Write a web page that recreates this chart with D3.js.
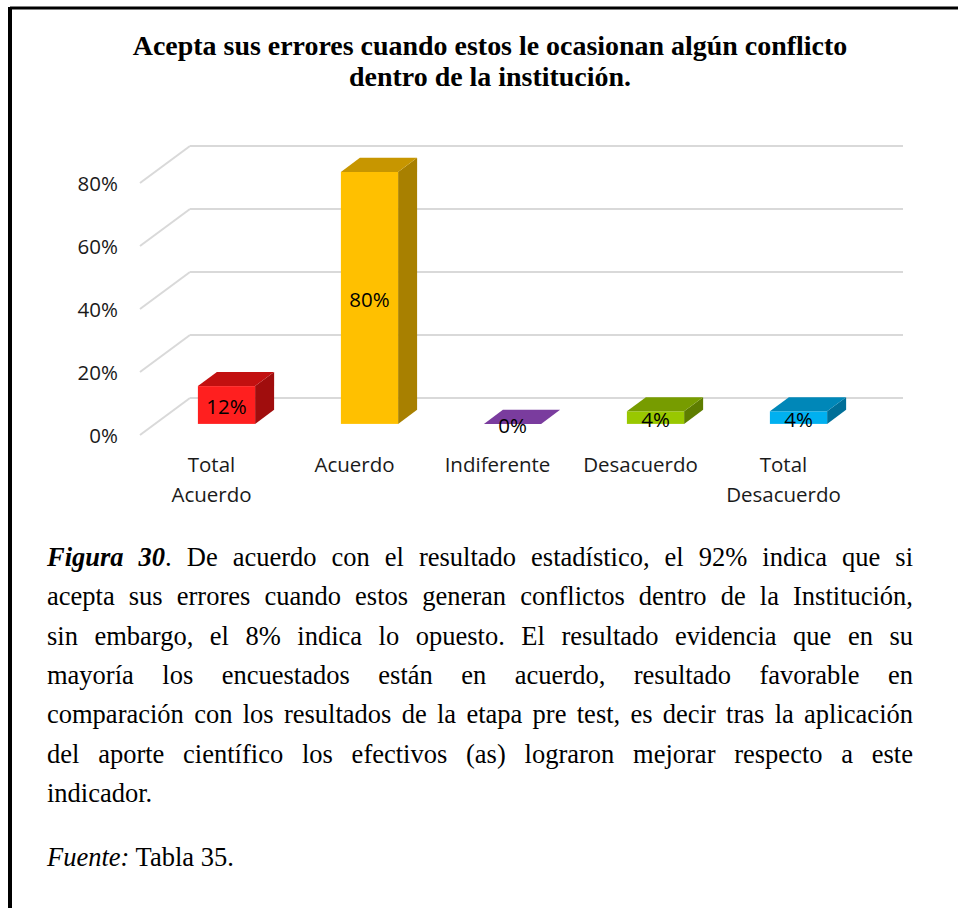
<!DOCTYPE html>
<html><head><meta charset="utf-8">
<script src="https://cdn.jsdelivr.net/npm/d3@7"></script>
<style>
html,body{margin:0;padding:0;background:#fff;}
svg{display:block;}
</style></head>
<body>
<svg id="c" width="958" height="908"></svg>
<script>
const categories = [["Total","Acuerdo"],["Acuerdo"],["Indiferente"],["Desacuerdo"],["Total","Desacuerdo"]];
const values = [0.12, 0.80, 0.00, 0.04, 0.04];
const valueLabels = ["12%","80%","0%","4%","4%"];
const tickValues = [0, 0.2, 0.4, 0.6, 0.8];
const titleLines = ["Acepta sus errores cuando estos le ocasionan algún conflicto","dentro de la institución."];
const frontColors = ["#FF1F1F","#FFC000","#7A3C9E","#99C800","#00B0F0"];
const topColors   = ["#C21010","#C79600","#7A3C9E","#779C00","#0087B8"];
const sideColors  = ["#A00D0D","#A88000","#5E2C7A","#5E7D00","#006F98"];
const captionLines = [
  [["Figura 30","bi"],[". De acuerdo con el resultado estadístico, el 92% indica que si","r"]],
  [["acepta sus errores cuando estos generan conflictos dentro de la Institución,","r"]],
  [["sin embargo, el 8% indica lo opuesto. El resultado evidencia que en su","r"]],
  [["mayoría los encuestados están en acuerdo, resultado favorable en","r"]],
  [["comparación con los resultados de la etapa pre test, es decir tras la aplicación","r"]],
  [["del aporte científico los efectivos (as) lograron mejorar respecto a este","r"]],
  [["indicador.","r"]]
];
const sourceParts = [["Fuente:","i"],[" Tabla 35.","r"]];

const svg = d3.select("#c");

// frame
svg.append("line").attr("x1",10).attr("x2",958).attr("y1",8).attr("y2",8).attr("stroke","#000").attr("stroke-width",3);
svg.append("line").attr("x1",10).attr("x2",10).attr("y1",7).attr("y2",908).attr("stroke","#000").attr("stroke-width",4);

// title
const serif = "'Liberation Serif','Times New Roman',serif";
const tY = [55, 86];
const titleEls = titleLines.map((t,i)=>svg.append("text").attr("x",490).attr("y",tY[i]).attr("text-anchor","middle")
    .attr("font-family",serif).attr("font-weight","bold").attr("font-size",24).attr("fill","#000").text(t));
const tw = titleEls[0].node().getComputedTextLength();
const fsTitle = 24*715/tw;
titleEls.forEach(e=>e.attr("font-size",fsTitle));

// chart geometry
const x0 = 140, bandW = 143;
const DX = 50, DY = -37;
const f1 = 0.3, f2 = 0.68;
const x = d3.scaleBand().domain(d3.range(categories.length)).range([x0, x0 + bandW*categories.length]).paddingInner(0.6).paddingOuter(0.3);
const y = d3.scaleLinear().domain([0,0.8]).range([435,183]);

const g = svg.append("g");
tickValues.forEach(v=>{
  g.append("line").attr("x1",x0).attr("y1",y(v)).attr("x2",x0+DX).attr("y2",y(v)+DY)
    .attr("stroke","#d9d9d9").attr("stroke-width",2);
  g.append("line").attr("x1",x0+DX).attr("y1",y(v)+DY).attr("x2",x0+bandW*categories.length+DX-2).attr("y2",y(v)+DY)
    .attr("stroke","#d9d9d9").attr("stroke-width",2);
});

const sans = "'Open Sans','Noto Sans',sans-serif";
const yAxis = d3.axisLeft(y).tickValues(tickValues).tickFormat(d3.format(".0%")).tickSize(0).tickPadding(0);
const ya = svg.append("g").attr("transform","translate(118,0)").call(yAxis);
ya.select(".domain").remove();
ya.selectAll("text").attr("font-family",sans).attr("font-size",20.5).attr("fill","#1a1a1a").attr("dy","0.35em");

const ox1 = DX*f1, oy1 = DY*f1;
const odx = DX*(f2-f1), ody = DY*(f2-f1);
values.forEach((v,i)=>{
  const xl = x(i)+ox1, xr = x(i)+x.bandwidth()+ox1;
  const yt = y(v)+oy1, yb = y(0)+oy1;
  const bg = g.append("g");
  bg.append("path").attr("d",`M${xr},${yt}L${xr+odx},${yt+ody}L${xr+odx},${yb+ody}L${xr},${yb}Z`).attr("fill",sideColors[i]);
  bg.append("rect").attr("x",xl).attr("y",yt).attr("width",xr-xl).attr("height",yb-yt).attr("fill",frontColors[i]);
  bg.append("path").attr("d",`M${xl},${yt}L${xl+odx},${yt+ody}L${xr+odx},${yt+ody}L${xr},${yt}Z`).attr("fill",topColors[i]);
  svg.append("text").attr("x",(xl+xr)/2).attr("y",(yt+yb)/2+2).attr("dy","0.35em").attr("text-anchor","middle")
    .attr("font-family",sans).attr("font-size",20.5).attr("fill","#000").text(valueLabels[i]);
});

categories.forEach((c,i)=>{
  const cx = x(i)+x.bandwidth()/2;
  c.forEach((ln,j)=>{
    svg.append("text").attr("x",cx).attr("y",465+j*30).attr("dy","0.35em").attr("text-anchor","middle")
      .attr("font-family",sans).attr("font-size",20.5).attr("fill","#1a1a1a").text(ln);
  });
});

// caption
const capX = 47, capR = 913, capFs = 26.5, base0 = 566, step = 39.3;
function styleSpan(s,st){
  s.attr("font-style", st.includes("i")?"italic":"normal").attr("font-weight", st.includes("b")?"bold":"normal");
}
captionLines.forEach((parts,i)=>{
  const t = svg.append("text").attr("x",capX).attr("y",base0+i*step).attr("font-family",serif).attr("font-size",capFs).attr("fill","#000");
  parts.forEach(p=>{ const s=t.append("tspan").text(p[0]); styleSpan(s,p[1]); });
  if(i < captionLines.length-1){
    const w = t.node().getComputedTextLength();
    const full = parts.map(p=>p[0]).join("");
    const nSp = (full.match(/ /g)||[]).length;
    t.attr("word-spacing", (capR-capX-w)/nSp);
  }
});
const st = svg.append("text").attr("x",capX).attr("y",866).attr("font-family",serif).attr("font-size",capFs).attr("fill","#000");
sourceParts.forEach(p=>{ const s=st.append("tspan").text(p[0]); styleSpan(s,p[1]); });
</script>
</body></html>
